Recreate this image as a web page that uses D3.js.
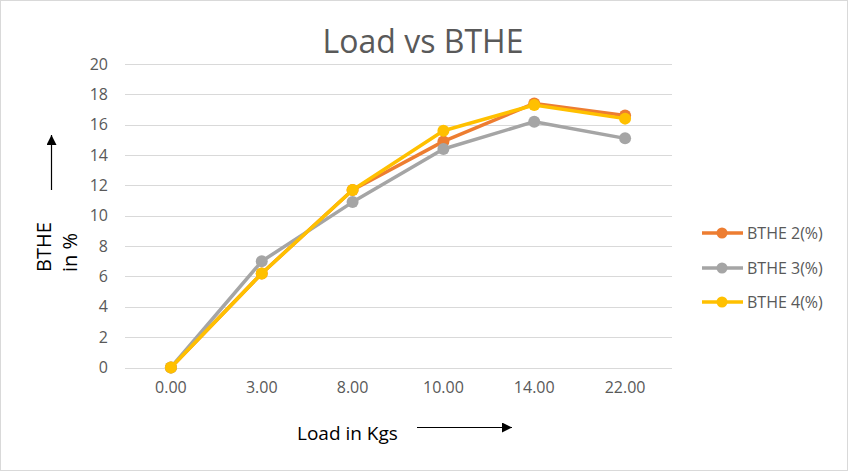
<!DOCTYPE html>
<html>
<head>
<meta charset="utf-8">
<script src="https://cdn.jsdelivr.net/npm/d3@7"></script>
<style>
  html, body { margin: 0; padding: 0; background: #fff; }
  svg { display: block; }
  text { font-family: "Open Sans", "Noto Sans", sans-serif; }
</style>
</head>
<body>
<svg id="chart" width="848" height="471"></svg>
<script>
const categories = ["0.00", "3.00", "8.00", "10.00", "14.00", "22.00"];
const bthe2 = [0, 6.2, 11.7, 14.9, 17.4, 16.6];
const bthe3 = [0, 7.0, 10.9, 14.4, 16.2, 15.1];
const bthe4 = [0, 6.2, 11.7, 15.6, 17.3, 16.4];
const seriesNames = ["BTHE 2(%)", "BTHE 3(%)", "BTHE 4(%)"];
const seriesColors = ["#ED7D31", "#A5A5A5", "#FFC000"];
const yTicks = [0, 2, 4, 6, 8, 10, 12, 14, 16, 18, 20];

const series = [bthe2, bthe3, bthe4].map((v, i) => ({ name: seriesNames[i], color: seriesColors[i], values: v }));

const svg = d3.select("#chart");
const W = 848, H = 471;

// border
svg.append("rect").attr("x", 0.5).attr("y", 0.5).attr("width", W - 1).attr("height", H - 1)
  .attr("fill", "#fff").attr("stroke", "#d9d9d9");

const x = d3.scaleBand().domain(categories).range([125.5, 670.5]);
const y = d3.scaleLinear().domain([0, 20]).range([367.5, 64]);

// gridlines
svg.append("g").selectAll("line").data(yTicks).join("line")
  .attr("x1", 125).attr("x2", 672)
  .attr("y1", d => Math.round(y(d)) + 0.5).attr("y2", d => Math.round(y(d)) + 0.5)
  .attr("stroke", "#d9d9d9").attr("stroke-width", 1);

// y axis labels
const yAxis = d3.axisLeft(y).tickValues(yTicks).tickSize(0).tickPadding(0).tickFormat(d3.format("d"));
const gy = svg.append("g").attr("transform", "translate(108,0)").call(yAxis);
gy.select(".domain").remove();
gy.selectAll("text").attr("font-size", 16).attr("fill", "#595959")
  .attr("font-family", "'Open Sans', sans-serif");

// x axis labels
const xAxis = d3.axisBottom(x).tickSize(0).tickPadding(0);
const gx = svg.append("g").attr("transform", "translate(0,382)").call(xAxis);
gx.select(".domain").remove();
gx.selectAll("text").attr("font-size", 16).attr("fill", "#595959")
  .attr("font-family", "'Open Sans', sans-serif");

// lines
const line = d3.line().x((d, i) => x(categories[i]) + x.bandwidth() / 2).y(d => y(d));
series.forEach(s => {
  const g = svg.append("g");
  g.append("path").datum(s.values).attr("d", line)
    .attr("fill", "none").attr("stroke", s.color).attr("stroke-width", 3.5)
    .attr("stroke-linejoin", "round").attr("stroke-linecap", "round");
  g.selectAll("circle").data(s.values).join("circle")
    .attr("cx", (d, i) => x(categories[i]) + x.bandwidth() / 2)
    .attr("cy", d => y(d)).attr("r", 6).attr("fill", s.color);
});

// title
svg.append("text").attr("x", 423).attr("y", 53).attr("text-anchor", "middle")
  .attr("font-size", 32).attr("fill", "#595959").text("Load vs BTHE");

// y axis title
svg.append("text").attr("transform", "translate(51,272) rotate(-90)")
  .attr("font-size", 20).attr("fill", "#000").text("BTHE");
svg.append("text").attr("transform", "translate(77,272) rotate(-90)")
  .attr("font-size", 20).attr("fill", "#000").text("in %");

// x axis title
svg.append("text").attr("x", 297).attr("y", 440)
  .attr("font-size", 19).attr("fill", "#000").text("Load in Kgs");

// arrows
const defs = svg.append("defs");
defs.append("marker").attr("id", "arrow").attr("viewBox", "0 0 10 10")
  .attr("refX", 10).attr("refY", 5).attr("markerWidth", 10).attr("markerHeight", 10)
  .attr("markerUnits", "userSpaceOnUse").attr("orient", "auto")
  .append("path").attr("d", "M0,0 L10,5 L0,10 Z").attr("fill", "#000");
svg.append("line").attr("x1", 51.5).attr("y1", 190).attr("x2", 51.5).attr("y2", 135)
  .attr("stroke", "#000").attr("stroke-width", 1.2).attr("marker-end", "url(#arrow)");
svg.append("line").attr("x1", 417).attr("y1", 427.5).attr("x2", 512).attr("y2", 427.5)
  .attr("stroke", "#000").attr("stroke-width", 1.2).attr("marker-end", "url(#arrow)");

// legend
const legendY = [233, 268, 302];
series.forEach((s, i) => {
  const g = svg.append("g").attr("transform", `translate(0,${legendY[i]})`);
  g.append("line").attr("x1", 702).attr("x2", 743).attr("y1", 0).attr("y2", 0)
    .attr("stroke", s.color).attr("stroke-width", 3.5);
  g.append("circle").attr("cx", 722).attr("cy", 0).attr("r", 5.5).attr("fill", s.color);
  g.append("text").attr("x", 747).attr("y", 0).attr("dy", "0.35em")
    .attr("font-size", 16).attr("fill", "#595959").text(s.name);
});
</script>
</body>
</html>
